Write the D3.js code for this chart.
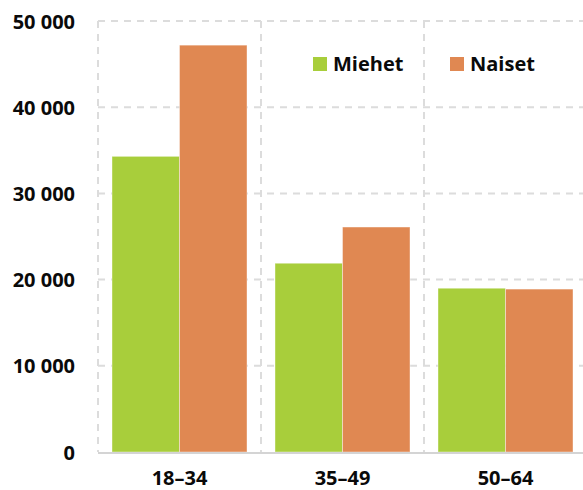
<!DOCTYPE html>
<html>
<head>
<meta charset="utf-8">
<script src="https://cdn.jsdelivr.net/npm/d3@7"></script>
<style>
  body { margin: 0; background: #fff; }
  svg text { font-family: "Open Sans", sans-serif; font-weight: 700; fill: #0a0a0a; }
</style>
</head>
<body>
<svg id="chart" width="583" height="490"></svg>
<script>
const categories = ['18–34', '35–49', '50–64'];
const series = ['Miehet', 'Naiset'];
const miehet = [34300, 21900, 19000];
const naiset = [47200, 26100, 18900];
const yTicks = [0, 10000, 20000, 30000, 40000, 50000];
const colors = ['#a8ce3b', '#e08852'];

const width = 583;
const height = 490;
const margin = { top: 21, right: -4, bottom: 38, left: 98 };

const svg = d3.select('#chart');

const x0 = d3
  .scaleBand()
  .domain(categories)
  .range([margin.left, width - margin.right])
  .paddingInner(0)
  .paddingOuter(0);

const x1 = d3
  .scaleBand()
  .domain(series)
  .range([14, x0.bandwidth() - 14]);

const y = d3
  .scaleLinear()
  .domain([0, 50000])
  .range([height - margin.bottom, margin.top]);

const fmt = d3.formatLocale({ decimal: ',', thousands: ' ', grouping: [3], currency: ['', ''] }).format(',');

// horizontal grid
svg
  .append('g')
  .selectAll('line')
  .data(yTicks.filter((d) => d > 0))
  .join('line')
  .attr('x1', margin.left)
  .attr('x2', width)
  .attr('y1', (d) => y(d))
  .attr('y2', (d) => y(d))
  .attr('stroke', '#dcdcdc')
  .attr('stroke-width', 2)
  .attr('stroke-dasharray', '7,6');

// vertical grid at band edges
svg
  .append('g')
  .selectAll('line')
  .data(categories)
  .join('line')
  .attr('x1', (d) => x0(d))
  .attr('x2', (d) => x0(d))
  .attr('y1', y(50000))
  .attr('y2', y(0))
  .attr('stroke', '#dcdcdc')
  .attr('stroke-width', 2)
  .attr('stroke-dasharray', '7,6');

// bars
const groups = svg
  .append('g')
  .selectAll('g')
  .data(categories)
  .join('g')
  .attr('transform', (d) => `translate(${x0(d)},0)`);

groups
  .selectAll('rect')
  .data((d, i) => [
    { key: 'Miehet', value: miehet[i] },
    { key: 'Naiset', value: naiset[i] },
  ])
  .join('rect')
  .attr('x', (d) => x1(d.key))
  .attr('width', x1.bandwidth())
  .attr('y', (d) => y(d.value))
  .attr('height', (d) => y(0) - y(d.value))
  .attr('fill', (d, i) => colors[i])
  .attr('stroke', '#fff')
  .attr('stroke-opacity', 0.5)
  .attr('stroke-width', 0.8);

// baseline
svg
  .append('line')
  .attr('x1', margin.left)
  .attr('x2', width)
  .attr('y1', y(0) + 1)
  .attr('y2', y(0) + 1)
  .attr('stroke', '#d4d4d4')
  .attr('stroke-width', 2);

// y axis labels
const yAxis = svg
  .append('g')
  .attr('transform', `translate(75,0)`)
  .call(d3.axisLeft(y).tickValues(yTicks).tickFormat(fmt).tickSize(0).tickPadding(0));
yAxis.select('.domain').remove();
yAxis
  .selectAll('text')
  .attr('font-size', 20)
  .style('font-family', '"Open Sans", sans-serif')
  .style('font-weight', 700)
  .attr('fill', '#0a0a0a')
  .attr('dy', '0.35em');

// x axis labels
const xAxis = svg
  .append('g')
  .attr('transform', `translate(0,${y(0)})`)
  .call(d3.axisBottom(x0).tickSize(0).tickPadding(19));
xAxis.select('.domain').remove();
xAxis
  .selectAll('text')
  .attr('font-size', 20)
  .style('font-family', '"Open Sans", sans-serif')
  .style('font-weight', 700)
  .attr('fill', '#0a0a0a');

// legend
const legendX = [313, 450];
const legend = svg
  .append('g')
  .selectAll('g')
  .data(series)
  .join('g')
  .attr('transform', (d, i) => `translate(${legendX[i]},57)`);
legend
  .append('rect')
  .attr('width', 14)
  .attr('height', 14)
  .attr('fill', (d, i) => colors[i]);
legend
  .append('text')
  .attr('x', 20)
  .attr('y', 7)
  .attr('dy', '0.35em')
  .attr('font-size', 20)
  .text((d) => d);
</script>
</body>
</html>
